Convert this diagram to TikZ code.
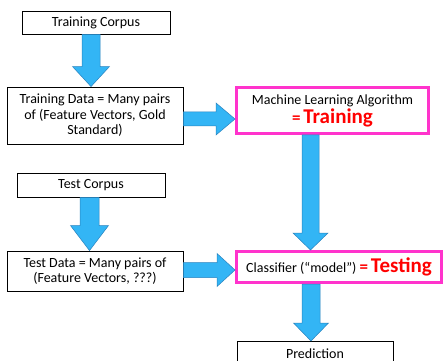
\documentclass[tikz,border=0pt]{standalone}
\usepackage{fontspec}
\setmainfont{Carlito}
\usetikzlibrary{calc}
\definecolor{arrowfill}{RGB}{51,181,245}
\definecolor{arrowline}{RGB}{40,130,190}
\definecolor{hotpink}{RGB}{255,51,204}
\tikzset{
  plainbox/.style={draw=black, line width=0.9pt, fill=white, align=center, inner sep=1pt,
    font=\fontsize{14}{15.5}\selectfont},
  pinkbox/.style={draw=hotpink, line width=3pt, fill=white, align=center, inner sep=1pt,
    font=\fontsize{14}{15.5}\selectfont},
  blk/.style={fill=arrowfill, draw=arrowline, line width=0.5pt, line join=miter},
}
% down block arrow: #1 start, #2 end, #3 shaft half width, #4 head half width, #5 head length
\newcommand\blkdown[5]{%
  \path[blk] let \p1=(#1), \p2=(#2) in
    (\x1-#3pt,\y1) -- (\x1+#3pt,\y1) -- (\x1+#3pt,\y2+#5pt) -- (\x1+#4pt,\y2+#5pt)
    -- (\x1,\y2) -- (\x1-#4pt,\y2+#5pt) -- (\x1-#3pt,\y2+#5pt) -- cycle;}
% right block arrow
\newcommand\blkright[5]{%
  \path[blk] let \p1=(#1), \p2=(#2) in
    (\x1,\y1+#3pt) -- (\x2-#5pt,\y1+#3pt) -- (\x2-#5pt,\y1+#4pt) -- (\x2,\y1)
    -- (\x2-#5pt,\y1-#4pt) -- (\x2-#5pt,\y1-#3pt) -- (\x1,\y1-#3pt) -- cycle;}
\newcommand\redeq[1]{{\color{red}\bfseries\fontsize{17}{17}\selectfont =\,}{\color{red}\bfseries\fontsize{21}{21}\selectfont #1}}
\begin{document}
\begin{tikzpicture}[x=1pt,y=-1pt]
\useasboundingbox (0,0) rectangle (445,361);
\fill[white] (0,0) rectangle (445,361);
\clip (0,0) rectangle (445,361);

\node[plainbox, minimum width=148pt, minimum height=23pt] (tc) at (96,22.5) {Training Corpus};
\node[plainbox, minimum width=176pt, minimum height=57pt] (td) at (95,115.5)
  {Training Data = Many pairs\\of (Feature Vectors, Gold\\Standard)};
\node[pinkbox, minimum width=192pt, minimum height=46pt] (ml) at (332.5,110.5)
  {Machine Learning Algorithm\\[1pt]\redeq{Training}};
\node[plainbox, minimum width=148pt, minimum height=24pt] (tec) at (91,185) {Test Corpus};
\node[plainbox, minimum width=176pt, minimum height=40pt] (ted) at (95,271)
  {Test Data = Many pairs of\\(Feature Vectors, ???)};
\node[pinkbox, minimum width=205pt, minimum height=31pt] (cl) at (339,267)
  {Classifier (“model”) \redeq{Testing}};
\node[plainbox, minimum width=156pt, minimum height=25pt, anchor=north] (pr) at (315,341) {Prediction};

\blkdown{[xshift=-5pt]tc.south}{[xshift=-5pt]td.north}{9}{18.5}{20}
\blkdown{[xshift=-1.5pt]tec.south}{[xshift=-1.5pt]ted.north}{9.5}{19}{25}
\blkright{[yshift=-3.5pt]td.east}{[yshift=-3.5pt]ml.west}{7}{16}{19}
\blkdown{[xshift=-22pt]ml.south}{[xshift=-22pt]cl.north}{8.5}{17.5}{17}
\blkright{[yshift=1pt]ted.east}{[yshift=1pt]cl.west}{7.5}{16.5}{18}
\blkdown{[xshift=-28pt]cl.south}{[xshift=-4pt]pr.north}{9}{17.5}{18}
\end{tikzpicture}
\end{document}
